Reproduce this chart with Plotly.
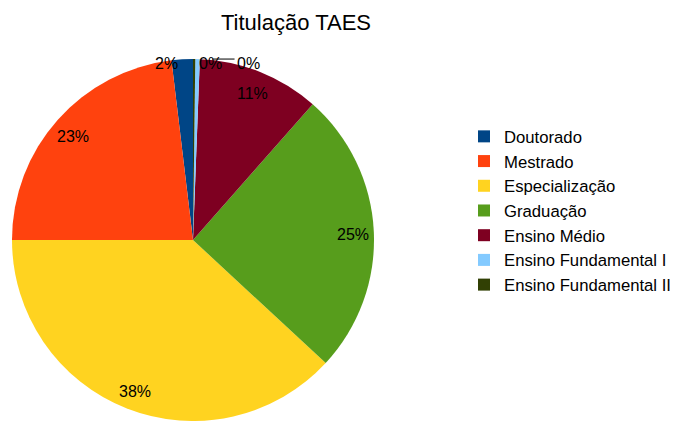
import math
import plotly.graph_objects as go

# ---- data ----
categories = ["Doutorado", "Mestrado", "Especialização", "Graduação",
              "Ensino Médio", "Ensino Fundamental I", "Ensino Fundamental II"]
values = [19, 231, 381, 254, 109, 4, 2]
colors = ["#004586", "#ff420e", "#ffd320", "#579d1c", "#7e0021", "#83caff", "#314004"]
title_text = "Titulação TAES"

# ---- layout constants ----
W, H = 682, 421
cx, cy, R = 193, 240, 181
FONT = "Liberation Sans, Arial, sans-serif"
# label placement style per slice: 'in' = inside near rim, 'right'/'left' = anchored at rim, 'leader' = with leader line
label_mode = ["right", "in", "in", "in", "in", "leader", "left"]

total = sum(values)
first_angle = values[0] / total * 360.0

fig = go.Figure(go.Pie(
    labels=categories,
    values=values,
    marker=dict(colors=colors, line=dict(width=0)),
    sort=False,
    direction="counterclockwise",
    rotation=-first_angle,
    textinfo="none",
    hoverinfo="label+percent",
    domain=dict(x=[(cx - R) / W, (cx + R) / W], y=[0, 2 * R / H]),
    showlegend=True,
))

def px2paper(x, y):
    return x / W, 1 - y / H

cum = 0.0
annotations = []
shapes = []
for v, mode in zip(values, label_mode):
    frac = v / total
    mid = cum + frac / 2
    cum += frac
    ang = math.radians(90 + 360 * mid)
    txt = f"{round(frac * 100):.0f}%"
    if mode == "in":
        x = cx + 0.885 * R * math.cos(ang)
        y = cy - 0.885 * R * math.sin(ang) + 2.5
        px, py = px2paper(x, y)
        annotations.append(dict(x=px, y=py, xref="paper", yref="paper", text=txt,
                                showarrow=False, xanchor="center", yanchor="middle",
                                font=dict(family=FONT, size=16, color="black")))
    else:
        ex = cx + R * math.cos(ang)
        ey = cy - R * math.sin(ang)
        if mode == "right":
            px, py = px2paper(ex - 2, ey + 4)
            annotations.append(dict(x=px, y=py, xref="paper", yref="paper", text=txt,
                                    showarrow=False, xanchor="right", yanchor="middle",
                                    font=dict(family=FONT, size=16, color="black")))
        elif mode == "left":
            px, py = px2paper(ex + 3, ey + 4)
            annotations.append(dict(x=px, y=py, xref="paper", yref="paper", text=txt,
                                    showarrow=False, xanchor="left", yanchor="middle",
                                    font=dict(family=FONT, size=16, color="black")))
        else:  # leader
            x0, x1 = ex + 15, ex + 37
            p0 = px2paper(x0, ey)
            p1 = px2paper(x1, ey)
            shapes.append(dict(type="line", xref="paper", yref="paper",
                               x0=p0[0], y0=p0[1], x1=p1[0], y1=p1[1],
                               line=dict(color="black", width=1)))
            px, py = px2paper(x1, ey + 4)
            annotations.append(dict(x=px, y=py, xref="paper", yref="paper", text=txt,
                                    showarrow=False, xanchor="left", yanchor="middle",
                                    font=dict(family=FONT, size=16, color="black")))

fig.update_layout(
    width=W, height=H,
    margin=dict(l=0, r=0, t=0, b=0),
    paper_bgcolor="white",
    plot_bgcolor="white",
    title=dict(text=title_text, x=296 / W, xanchor="center", xref="paper",
               y=1 - 22 / H, yanchor="middle", yref="container",
               font=dict(family=FONT, size=22, color="black")),
    legend=dict(x=464 / W, xanchor="left", y=1 - 119 / H, yanchor="top",
                font=dict(family=FONT, size=16.7, color="black"),
                bgcolor="rgba(0,0,0,0)", traceorder="normal"),
    annotations=annotations,
    shapes=shapes,
)

fig.write_html("out.html", config={"displayModeBar": False},
               post_script="document.body.style.margin='0';document.body.style.overflow='hidden';")
